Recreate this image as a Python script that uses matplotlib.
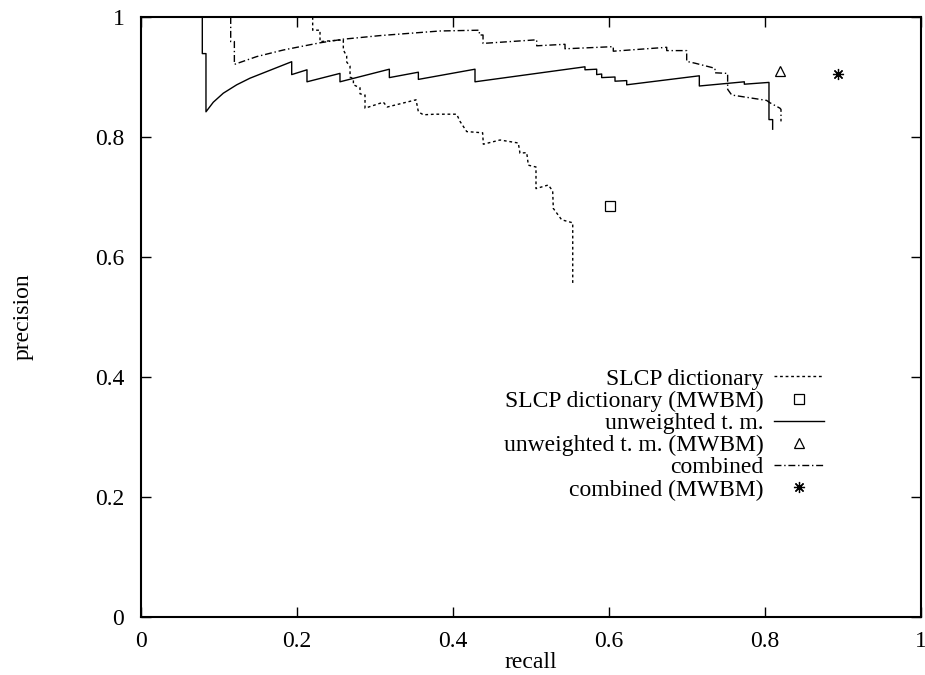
import matplotlib
matplotlib.use("Agg")
import matplotlib.pyplot as plt

plt.rcParams['font.family'] = ['Liberation Serif', 'DejaVu Serif']
plt.rcParams['font.size'] = 17

# SLCP dictionary (dotted)
slcp_r = [0.2201, 0.2201, 0.2295, 0.2295, 0.2594, 0.2594, 0.2637, 0.2637, 0.2680, 0.2680,
          0.2723, 0.2723, 0.2808, 0.2808, 0.2872, 0.2872, 0.3107, 0.3158, 0.3526, 0.3556,
          0.3620, 0.3769, 0.4047, 0.4090, 0.4176, 0.4380, 0.4389, 0.4603, 0.4837, 0.4859,
          0.4945, 0.4966, 0.5064, 0.5064, 0.5222, 0.5278, 0.5286, 0.5393, 0.5535, 0.5535]
slcp_p = [1.0, 0.978, 0.978, 0.959, 0.962, 0.945, 0.935, 0.925, 0.918, 0.900,
          0.897, 0.887, 0.882, 0.872, 0.870, 0.848, 0.858, 0.850, 0.862, 0.842,
          0.837, 0.838, 0.838, 0.826, 0.809, 0.807, 0.788, 0.795, 0.790, 0.773,
          0.774, 0.753, 0.750, 0.714, 0.720, 0.710, 0.681, 0.662, 0.657, 0.556]

# unweighted t. m. (solid)
utm_r = [0.0786, 0.0786, 0.0833, 0.0833, 0.0927, 0.1055, 0.1227, 0.1397, 0.1611, 0.1932,
         0.1932, 0.2128, 0.2128, 0.2551, 0.2551, 0.3184, 0.3184, 0.3556, 0.3556, 0.4282,
         0.4282, 0.5692, 0.5692, 0.5842, 0.5842, 0.5906, 0.5906, 0.6077, 0.6077, 0.6227,
         0.6227, 0.7158, 0.7158, 0.7735, 0.7735, 0.8051, 0.8051, 0.8098, 0.8098]
utm_p = [1.0, 0.939, 0.939, 0.842, 0.858, 0.873, 0.887, 0.898, 0.909, 0.9255,
         0.904, 0.912, 0.892, 0.906, 0.892, 0.913, 0.899, 0.908, 0.896, 0.913,
         0.892, 0.917, 0.912, 0.913, 0.904, 0.905, 0.899, 0.900, 0.893, 0.894,
         0.887, 0.902, 0.885, 0.892, 0.888, 0.891, 0.829, 0.829, 0.813]

# combined (dash-dot)
comb_r = [0.1150, 0.1150, 0.1197, 0.1197, 0.1483, 0.1825, 0.2038, 0.2295, 0.2594, 0.3064,
          0.3833, 0.4338, 0.4338, 0.4385, 0.4385, 0.5073, 0.5073, 0.5436, 0.5436, 0.6055,
          0.6055, 0.6740, 0.6740, 0.6996, 0.6996, 0.7103, 0.7359, 0.7359, 0.7521, 0.7521,
          0.7573, 0.8020, 0.8064, 0.8192, 0.8205, 0.8205]
comb_p = [1.0, 0.959, 0.959, 0.921, 0.934, 0.945, 0.9505, 0.957, 0.963, 0.969,
          0.9767, 0.978, 0.970, 0.970, 0.956, 0.962, 0.952, 0.9545, 0.947, 0.9506,
          0.943, 0.9495, 0.944, 0.944, 0.926, 0.923, 0.9145, 0.907, 0.906, 0.8795,
          0.870, 0.861, 0.857, 0.848, 0.846, 0.826]

# MWBM single points
slcp_mwbm = (0.601, 0.685)
utm_mwbm = (0.819, 0.910)
comb_mwbm = (0.894, 0.905)

fig = plt.figure(figsize=(9.25, 6.75), dpi=100)
ax = fig.add_axes([141 / 925, 58 / 675, 780 / 925, 600 / 675])

ax.plot(slcp_r, slcp_p, color='black', lw=1.0, linestyle=(0, (2, 2)),
        label='SLCP dictionary')
ax.plot([slcp_mwbm[0]], [slcp_mwbm[1]], linestyle='', marker='s', ms=6.5,
        mfc='none', mec='black', mew=0.9, label='SLCP dictionary (MWBM)')
ax.plot(utm_r, utm_p, color='black', lw=1.0, label='unweighted t. m.')
ax.plot([utm_mwbm[0]], [utm_mwbm[1]], linestyle='', marker='^', ms=6.5,
        mfc='none', mec='black', mew=0.9, label='unweighted t. m. (MWBM)')
ax.plot(comb_r, comb_p, color='black', lw=1.0, linestyle=(0, (5, 2, 1, 2)),
        label='combined')
ax.plot([comb_mwbm[0]], [comb_mwbm[1]], linestyle='', marker=(8, 2, 0), ms=8,
        mec='black', mew=0.9, label='combined (MWBM)')

ax.set_xlim(0, 1)
ax.set_ylim(0, 1)
ax.set_xticks([0, 0.2, 0.4, 0.6, 0.8, 1])
ax.set_xticklabels(['0', '0.2', '0.4', '0.6', '0.8', '1'])
ax.set_yticks([0, 0.2, 0.4, 0.6, 0.8, 1])
ax.set_yticklabels(['0', '0.2', '0.4', '0.6', '0.8', '1'])
ax.tick_params(direction='in', length=7, width=1, top=True, right=True)
ax.tick_params(axis='y', pad=12)
ax.tick_params(axis='x', pad=10)
for s in ax.spines.values():
    s.set_linewidth(1.5)

ax.set_xlabel('recall', labelpad=0)
ax.set_ylabel('precision', labelpad=44)

leg = ax.legend(loc='upper right', bbox_to_anchor=(0.875, 0.415), frameon=False,
                markerfirst=False, handlelength=2.1, handletextpad=0.45,
                labelspacing=0.03, borderpad=0, borderaxespad=0, fontsize=17)

fig.savefig('out.png', dpi=100)
